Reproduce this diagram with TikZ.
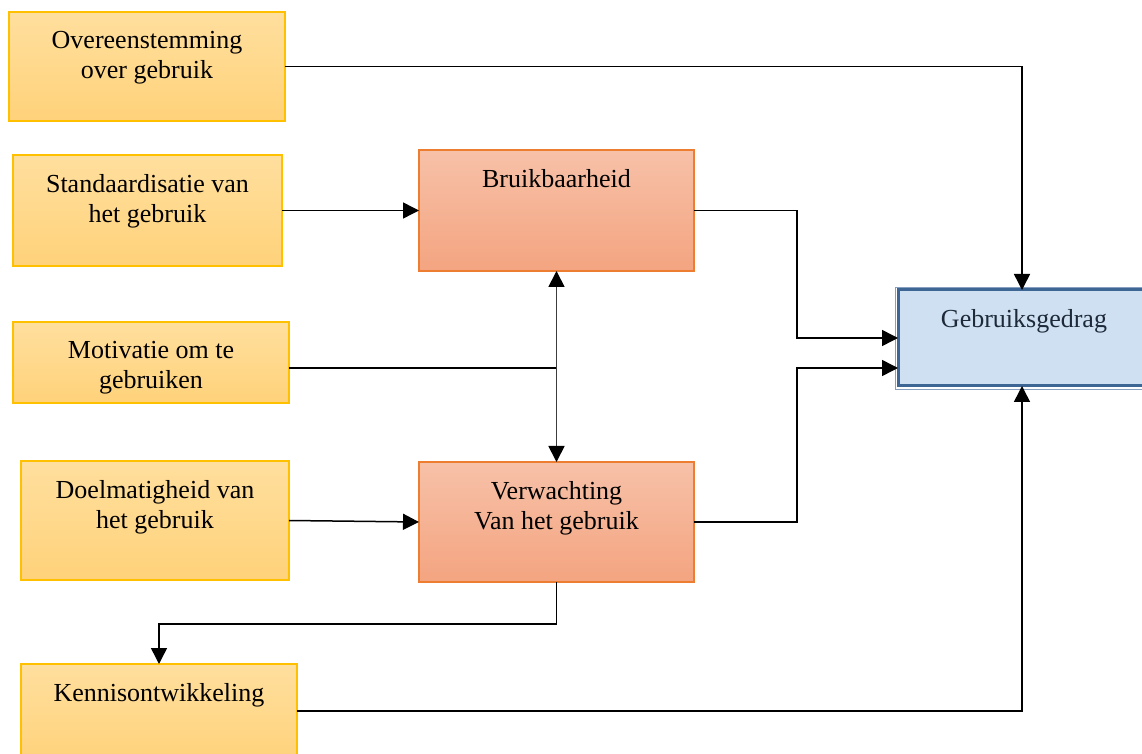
\documentclass[tikz,border=0pt]{standalone}
\usepackage{fontspec}
\setmainfont{Liberation Serif}
\usetikzlibrary{arrows.meta,calc}
\definecolor{ytop}{RGB}{255,223,158}
\definecolor{ybot}{RGB}{255,210,122}
\definecolor{yedge}{RGB}{255,192,0}
\definecolor{otop}{RGB}{247,193,168}
\definecolor{obot}{RGB}{244,164,128}
\definecolor{oedge}{RGB}{237,125,49}
\definecolor{bfill}{RGB}{206,224,242}
\definecolor{bedge}{RGB}{62,102,148}
\definecolor{bouter}{RGB}{135,160,192}
\definecolor{btext}{RGB}{30,42,58}
\definecolor{vline}{RGB}{60,60,60}

\begin{document}
\begin{tikzpicture}[x=0.5pt,y=-0.5pt,
  box/.style={anchor=north west,inner sep=0pt,outer sep=0pt,line width=0.6pt},
  ybox/.style={box,draw=yedge,top color=ytop,bottom color=ybot},
  obox/.style={box,draw=oedge,top color=otop,bottom color=obot},
  gbox/.style={box,draw=bedge,line width=1.5pt,fill=bfill},
  lbl/.style={anchor=north,yshift=-9.5pt,inner sep=0pt,align=center,
    font=\fontsize{13}{15}\selectfont},
  tip/.tip={Triangle[width=8pt,length=8pt,black]},
  arr/.style={line width=0.75pt,-tip},
  biarr/.style={line width=0.9pt,draw=vline,tip-tip},
  plain/.style={line width=0.75pt}]
\useasboundingbox (0,0) rectangle (1142,754);
\clip (0,0) rectangle (1142,754);

% input factors (left column)
\node[ybox,minimum width=138pt,minimum height=54.5pt,
  label={[lbl]north:Overeenstemming\\over gebruik}] (O) at (9,12) {};
\node[ybox,minimum width=134.5pt,minimum height=55.5pt,
  label={[lbl]north:Standaardisatie van\\het gebruik}] (S) at (13,155) {};
\node[ybox,minimum width=138pt,minimum height=40.5pt,
  label={[lbl]north:Motivatie om te\\gebruiken}] (M) at (13,322) {};
\node[ybox,minimum width=134pt,minimum height=59.5pt,
  label={[lbl]north:Doelmatigheid van\\het gebruik}] (D) at (21,461) {};
\node[ybox,minimum width=138pt,minimum height=50pt,
  label={[lbl]north:Kennisontwikkeling}] (K) at (21,664) {};

% mediating factors
\node[obox,minimum width=137.5pt,minimum height=60.5pt,
  label={[lbl]north:Bruikbaarheid}] (B) at (419,150) {};
\node[obox,minimum width=137.5pt,minimum height=60pt,
  label={[lbl]north:Verwachting\\Van het gebruik}] (V) at (419,462) {};

% outcome
\node[gbox,minimum width=130pt,minimum height=48pt,
  label={[lbl,text=btext,xshift=-2pt]north:Gebruiksgedrag}] (G) at (898,290) {};
\draw[bouter,line width=0.4pt] ($(G.north west)+(-3,-3)$) rectangle ($(G.south east)+(3,3)$);

% junction points
\coordinate (jb) at (797,338);
\coordinate (jv) at (797,368);
\coordinate (jm) at (556,368);
\coordinate (gt) at ($(G.north west)+(124,0)$);
\coordinate (gb) at ($(G.south west)+(124,0)$);

% connectors
\draw[arr] (O.east) -| (gt);
\draw[arr] (S.east) -- (B.west);
\draw[arr] (B.east) -| (jb) -- (G.west);
\draw[arr] (V.east) -| (jv) -- (G.west |- jv);
\draw[plain] (M.east |- jm) -- (jm);
\draw[biarr] (B.south) -- (V.north);
\draw[arr] (D.east) -- (V.west);
\draw[arr] (V.south) -- ++(0,42) -| (K.north);
\draw[arr] (K.east |- 0,711) -| (gb);
\end{tikzpicture}
\end{document}
